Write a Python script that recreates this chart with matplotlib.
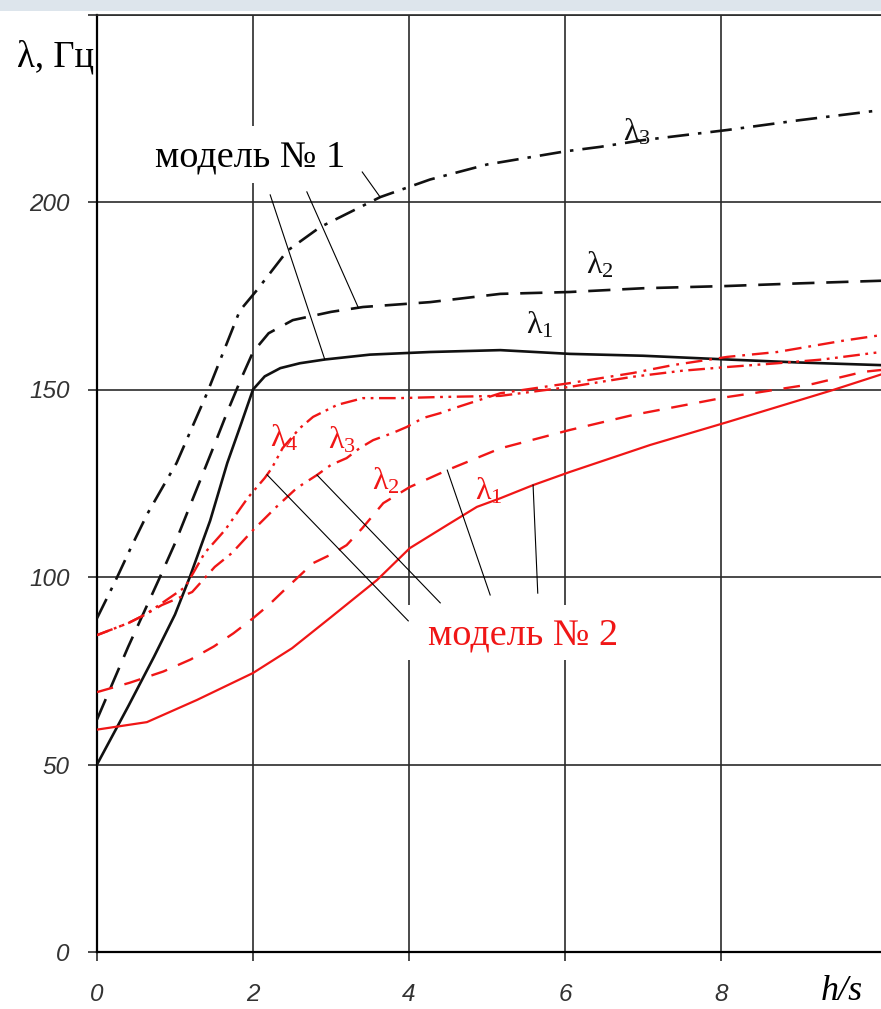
import matplotlib
matplotlib.use('Agg')
import matplotlib.pyplot as plt
import numpy as np
from matplotlib.patches import Rectangle

plt.rcParams['lines.scale_dashes'] = False

# ---------------- data ----------------
# model 1 (black)
m1_l1_x = [0, 0.4, 0.73, 1.0, 1.19, 1.45, 1.67, 1.85, 2.0, 2.15, 2.35, 2.6, 2.92, 3.5, 4.27, 5.17, 6.06, 7.0, 8.08, 9.0, 10.05]
m1_l1_y = [50, 65.5, 78.7, 90, 100, 115, 130.4, 141, 150, 153.5, 155.7, 157, 158, 159.3, 160, 160.5, 159.5, 159, 158, 157.2, 156.5]

m1_l2_x = [0, 0.4, 0.79, 1.0, 1.26, 1.5, 1.67, 1.85, 2.0, 2.2, 2.51, 3.0, 3.41, 4.27, 5.17, 6.06, 7.0, 8.08, 9.0, 10.05]
m1_l2_y = [62, 81.4, 99.2, 109, 122.5, 135, 144, 153, 160, 165, 168.5, 170.7, 172, 173.3, 175.5, 176, 177, 177.6, 178.3, 179]

m1_l3_x = [0, 0.23, 0.45, 0.65, 0.87, 1.02, 1.41, 1.83, 2.05, 2.44, 2.86, 3.63, 4.27, 5.0, 6.0, 6.45, 7.0, 8.08, 9.0, 10.05]
m1_l3_y = [89, 98.7, 108.5, 117, 125, 130.4, 149, 171, 176.5, 187, 193.3, 201.3, 206, 210, 213.5, 214.7, 216.5, 219.2, 221.8, 224.5]

# model 2 (red)
m2_l1_x = [0, 0.64, 1.28, 2.0, 2.5, 3.0, 3.59, 4.01, 4.5, 4.87, 5.17, 5.59, 6.06, 7.09, 8.08, 9.44, 10.05]
m2_l1_y = [59.3, 61.3, 67.2, 74.4, 81, 89.3, 99.2, 107.7, 114, 118.7, 121, 124.5, 128, 135.2, 141.3, 149.9, 154]

m2_l2_x = [0, 0.42, 0.85, 1.2, 1.5, 1.75, 2.0, 2.2, 2.4, 2.77, 3.0, 3.2, 3.4, 3.67, 4.01, 4.49, 5.17, 6.06, 6.87, 8.08, 8.5, 9.18, 9.82, 10.05]
m2_l2_y = [69.3, 71.8, 74.8, 78, 81.5, 85, 89, 92.5, 96.5, 103.7, 106, 108.5, 113, 119.7, 124, 128.5, 134.3, 139.2, 143.2, 148, 149.3, 151.5, 154.7, 155.2]

m2_l3_x = [0, 0.4, 0.62, 0.83, 1.0, 1.22, 1.51, 1.73, 2.0, 2.3, 2.56, 2.82, 3.0, 3.2, 3.37, 3.54, 3.79, 3.97, 4.18, 4.4, 4.62, 5.17, 6.06, 6.87, 7.38, 8.08, 8.72, 9.56, 10.05]
m2_l3_y = [84.5, 87.7, 90, 92.5, 94, 96, 102.7, 106.4, 112.5, 118.7, 123.7, 127.2, 129.9, 131.7, 134.4, 136.5, 138.4, 140, 142.4, 143.7, 145.3, 149, 151.7, 154.4, 156.5, 158.7, 160, 163, 164.5]

m2_l4_x = [0, 0.4, 0.62, 0.83, 1.13, 1.38, 1.64, 1.94, 2.15, 2.24, 2.38, 2.6, 2.77, 3.08, 3.41, 3.88, 4.4, 5.17, 6.06, 6.87, 7.5, 8.08, 8.72, 9.3, 10.05]
m2_l4_y = [84.5, 87.7, 90, 93, 97.3, 106.4, 112.5, 121.3, 126.4, 129, 134.4, 139.7, 142.7, 145.9, 147.7, 147.7, 148, 148.3, 150.7, 153.4, 155, 156, 157, 158, 160]

x_ticks = [0, 2, 4, 6, 8]
x_tick_labels = ['0', '2', '4', '6', '8']
y_ticks = [0, 50, 100, 150, 200, 250]
y_tick_labels = ['0', '50', '100', '150', '200', '']

# ---------------- figure ----------------
W, H = 881, 1009
fig = plt.figure(figsize=(W / 100, H / 100), dpi=100)
fig.patches.append(Rectangle((0, 1 - 11 / H), 1, 11 / H, transform=fig.transFigure,
                             facecolor='#dde5ec', edgecolor='none', zorder=0))
ax = fig.add_axes([97 / W, 57 / H, 784 / W, 937.5 / H])
ax.set_xlim(0, 10.05)
ax.set_ylim(0, 250)

GRID = '#2b2b2b'
ax.grid(True, color=GRID, lw=1.2)
ax.set_xticks(x_ticks, labels=x_tick_labels, fontstyle='italic', family='Liberation Sans')
ax.set_yticks(y_ticks, labels=y_tick_labels, fontstyle='italic', family='Liberation Sans')
ax.tick_params(axis='both', direction='out', length=6.5, width=1.2, color=GRID,
               labelsize=17.5, labelcolor='#333333')
ax.tick_params(axis='x', pad=16)
ax.tick_params(axis='y', pad=13)
for s in ['left', 'bottom']:
    ax.spines[s].set_color('black')
    ax.spines[s].set_linewidth(1.6)
ax.spines['top'].set_color(GRID)
ax.spines['top'].set_linewidth(1.2)
ax.spines['right'].set_visible(False)

BLACK = '#111111'
RED = '#f01616'

ax.plot(m1_l1_x, m1_l1_y, color=BLACK, lw=1.9, zorder=3)
ax.plot(m1_l2_x, m1_l2_y, color=BLACK, lw=1.9, ls=(0, (16, 8.5)), zorder=3)
ax.plot(m1_l3_x, m1_l3_y, color=BLACK, lw=1.9, ls=(0, (15.5, 6.5, 2.5, 6.5)), zorder=3)

ax.plot(m2_l1_x, m2_l1_y, color=RED, lw=1.6, zorder=3)
ax.plot(m2_l2_x, m2_l2_y, color=RED, lw=1.7, ls=(0, (12, 8.5)), zorder=3)
ax.plot(m2_l3_x, m2_l3_y, color=RED, lw=1.7, ls=(0, (12, 5, 2, 5)), zorder=3)
ax.plot(m2_l4_x, m2_l4_y, color=RED, lw=1.7, ls=(3, (12, 4, 2, 4, 2, 4)), zorder=3)

# white boxes behind labels
ax.add_patch(Rectangle((-1.12, 230), 1.17, 16.7, facecolor='white', edgecolor='none',
                       zorder=2.5, clip_on=False))
ax.add_patch(Rectangle((0.62, 205), 2.62, 15.3, facecolor='white', edgecolor='none', zorder=2.5))
ax.add_patch(Rectangle((3.95, 78), 3.0, 14.6, facecolor='white', edgecolor='none', zorder=2.5))

ax.text(-0.53, 238.5, 'λ, Гц', family='Liberation Serif', fontsize=26.5,
        ha='center', va='center', color='black', clip_on=False, zorder=5)
ax.text(9.55, -10.5, 'h/s', family='Liberation Serif', fontstyle='italic', fontsize=26,
        ha='center', va='center', color='black', clip_on=False, zorder=5)

ax.text(1.96, 212, 'модель № 1', family='Liberation Serif', fontsize=27.5,
        ha='center', va='center', color='black', zorder=5)
ax.text(5.46, 84.5, 'модель № 2', family='Liberation Serif', fontsize=27.5,
        ha='center', va='center', color=RED, zorder=5)

# pointer lines
def pointer(sx, sy, tx, cx, cy):
    ax.plot([sx, tx], [sy, np.interp(tx, cx, cy)], color='black', lw=0.8, zorder=4)

pointer(2.22, 201.9, 2.92, m1_l1_x, m1_l1_y)
pointer(2.69, 202.7, 3.35, m1_l2_x, m1_l2_y)
pointer(3.40, 208.0, 3.63, m1_l3_x, m1_l3_y)
pointer(3.99, 88.3, 2.18, m2_l4_x, m2_l4_y)
pointer(4.40, 93.1, 2.82, m2_l3_x, m2_l3_y)
pointer(5.04, 95.2, 4.49, m2_l2_x, m2_l2_y)
pointer(5.65, 95.7, 5.59, m2_l1_x, m2_l1_y)

# curve labels
def lam(x, y, n, color):
    ax.text(x, y, r'$\mathregular{λ_%d}$' % n, family='Liberation Serif', fontsize=23,
            ha='center', va='center', color=color, zorder=5)

lam(6.92, 218.5, 3, BLACK)
lam(6.45, 183, 2, BLACK)
lam(5.68, 167, 1, BLACK)
lam(2.40, 137, 4, RED)
lam(3.14, 136.5, 3, RED)
lam(3.70, 125.5, 2, RED)
lam(5.02, 123, 1, RED)

fig.savefig('out.png', dpi=100)
